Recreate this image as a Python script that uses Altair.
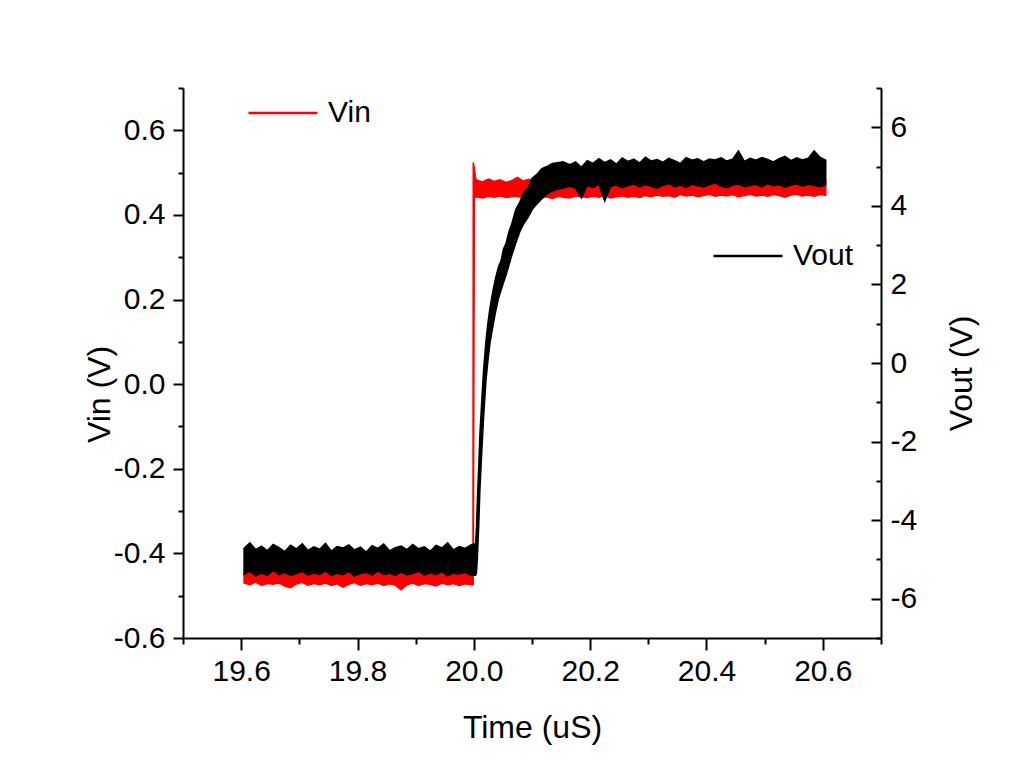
import altair as alt
import pandas as pd

RED = "#ff0000"
BLACK = "#000000"
FONT = "Liberation Sans"

# sample times (us)
PRE_T = [19.605, 19.615, 19.625, 19.635, 19.645, 19.655, 19.665, 19.675, 19.685, 19.695,
         19.705, 19.715, 19.725, 19.735, 19.745, 19.755, 19.765, 19.775, 19.785, 19.795,
         19.805, 19.815, 19.825, 19.835, 19.845, 19.855, 19.865, 19.875, 19.885, 19.895,
         19.905, 19.915, 19.925, 19.935, 19.945, 19.955, 19.965, 19.975, 19.985, 19.995]
POST_T = [20.005, 20.015, 20.025, 20.035, 20.045, 20.055, 20.065, 20.075, 20.085, 20.095,
          20.105, 20.115, 20.125, 20.135, 20.145, 20.155, 20.165, 20.175, 20.185, 20.195,
          20.205, 20.215, 20.225, 20.235, 20.245, 20.255, 20.265, 20.275, 20.285, 20.295,
          20.305, 20.315, 20.325, 20.335, 20.345, 20.355, 20.365, 20.375, 20.385, 20.395,
          20.405, 20.415, 20.425, 20.435, 20.445, 20.455, 20.465, 20.475, 20.485, 20.495,
          20.505, 20.515, 20.525, 20.535, 20.545, 20.555, 20.565, 20.575, 20.585, 20.595,
          20.605]

# Vin noise envelope (V)
VIN_PRE_LO = [-0.470, -0.474, -0.468, -0.476, -0.471, -0.473, -0.470, -0.477, -0.481, -0.472,
              -0.469, -0.475, -0.471, -0.474, -0.470, -0.476, -0.472, -0.480, -0.473, -0.469,
              -0.475, -0.471, -0.474, -0.470, -0.476, -0.472, -0.475, -0.486, -0.474, -0.470,
              -0.476, -0.471, -0.473, -0.477, -0.470, -0.474, -0.471, -0.476, -0.472, -0.474]
VIN_PRE_HI = [-0.446, -0.442, -0.448, -0.444, -0.447, -0.443, -0.449, -0.445, -0.441, -0.447,
              -0.444, -0.448, -0.442, -0.446, -0.443, -0.449, -0.445, -0.441, -0.447, -0.444,
              -0.448, -0.443, -0.446, -0.442, -0.447, -0.444, -0.449, -0.445, -0.442, -0.448,
              -0.444, -0.446, -0.441, -0.447, -0.443, -0.448, -0.445, -0.442, -0.446, -0.444]
STEP_T = [19.9985, 19.999, 20.001, 20.003]
STEP_LO = [-0.474, -0.474, 0.440, 0.442]
STEP_HI = [-0.445, 0.524, 0.510, 0.486]
VIN_POST_LO = [0.443, 0.440, 0.444, 0.442, 0.445, 0.441, 0.443, 0.444, 0.440, 0.442,
               0.445, 0.441, 0.443, 0.439, 0.444, 0.442, 0.440, 0.445, 0.443, 0.441,
               0.444, 0.442, 0.446, 0.440, 0.443, 0.445, 0.442, 0.444, 0.441, 0.446,
               0.443, 0.447, 0.444, 0.446, 0.442, 0.448, 0.445, 0.447, 0.443, 0.446,
               0.449, 0.444, 0.447, 0.445, 0.448, 0.443, 0.446, 0.449, 0.445, 0.447,
               0.444, 0.448, 0.446, 0.442, 0.447, 0.449, 0.445, 0.447, 0.444, 0.448, 0.446]
VIN_POST_HI = [0.482, 0.478, 0.485, 0.479, 0.483, 0.477, 0.481, 0.489, 0.480, 0.484,
               0.478, 0.482, 0.479, 0.483, 0.480, 0.484, 0.478, 0.482, 0.480, 0.483,
               0.479, 0.481, 0.484, 0.478, 0.482, 0.480, 0.483, 0.479, 0.481, 0.484,
               0.478, 0.482, 0.480, 0.483, 0.479, 0.481, 0.484, 0.478, 0.482, 0.480,
               0.483, 0.479, 0.481, 0.484, 0.478, 0.482, 0.480, 0.483, 0.479, 0.481,
               0.484, 0.478, 0.482, 0.480, 0.483, 0.479, 0.481, 0.484, 0.478, 0.482, 0.480]

# Vout noise envelope (V)
VOUT_PRE_LO = [-5.38, -5.30, -5.42, -5.35, -5.40, -5.28, -5.39, -5.33, -5.41, -5.36,
               -5.30, -5.40, -5.34, -5.38, -5.29, -5.41, -5.35, -5.39, -5.31, -5.42,
               -5.36, -5.33, -5.40, -5.29, -5.38, -5.35, -5.41, -5.32, -5.39, -5.36,
               -5.30, -5.40, -5.34, -5.38, -5.31, -5.42, -5.35, -5.37, -5.33, -5.40]
VOUT_PRE_HI = [-4.72, -4.58, -4.75, -4.66, -4.78, -4.62, -4.70, -4.80, -4.64, -4.73,
               -4.60, -4.77, -4.68, -4.74, -4.59, -4.79, -4.67, -4.71, -4.63, -4.76,
               -4.69, -4.81, -4.65, -4.72, -4.61, -4.78, -4.70, -4.66, -4.75, -4.62,
               -4.73, -4.68, -4.79, -4.64, -4.71, -4.58, -4.76, -4.67, -4.72, -4.63]
RISE_T = [20.0030, 20.0045, 20.0063, 20.0085, 20.0105, 20.0135, 20.0167, 20.0208, 20.0245, 20.0277,
          20.0330, 20.0380, 20.0425, 20.0468, 20.0510, 20.0556, 20.0605, 20.0654, 20.0720, 20.0792,
          20.0860, 20.0929, 20.1000, 20.1084, 20.1170, 20.1256, 20.1350, 20.1440, 20.1532]
RISE_LO = [-5.40, -5.35, -4.90, -4.10, -3.20, -2.30, -1.40, -0.45, 0.10, 0.50,
           0.95, 1.35, 1.65, 1.85, 2.05, 2.25, 2.50, 2.75, 3.05, 3.35,
           3.55, 3.70, 3.90, 4.05, 4.18, 4.30, 4.38, 4.42, 4.45]
RISE_HI = [-4.60, -4.20, -3.40, -2.60, -1.80, -1.00, -0.20, 0.55, 1.05, 1.40,
           1.85, 2.20, 2.45, 2.60, 2.90, 3.05, 3.35, 3.55, 3.90, 4.10,
           4.35, 4.45, 4.70, 4.80, 4.95, 5.00, 5.08, 5.10, 5.12]
VOUT_POST_LO = [4.50, 4.45, 4.20, 4.52, 4.47, 4.55, 4.12, 4.49, 4.53, 4.46,
                4.51, 4.56, 4.48, 4.54, 4.50, 4.45, 4.52, 4.57, 4.49, 4.53,
                4.47, 4.55, 4.51, 4.48, 4.54, 4.58, 4.50, 4.46, 4.53, 4.56,
                4.49, 4.52, 4.55, 4.48, 4.57, 4.51, 4.54, 4.47, 4.53, 4.56,
                4.50, 4.55, 4.52, 4.49, 4.54]
VOUT_POST_HI = [5.05, 5.12, 4.98, 5.15, 5.08, 5.20, 5.10, 5.17, 5.06, 5.22,
                5.13, 5.19, 5.09, 5.24, 5.14, 5.18, 5.11, 5.21, 5.15, 5.08,
                5.23, 5.16, 5.20, 5.12, 5.19, 5.17, 5.22, 5.14, 5.19, 5.40,
                5.13, 5.21, 5.16, 5.23, 5.18, 5.12, 5.20, 5.26, 5.15, 5.22,
                5.17, 5.21, 5.40, 5.24, 5.16]

# axis ticks
X_TICKS = [19.5, 19.6, 19.7, 19.8, 19.9, 20.0, 20.1, 20.2, 20.3, 20.4, 20.5, 20.6, 20.7]
VIN_TICKS = [-0.6, -0.5, -0.4, -0.3, -0.2, -0.1, 0.0, 0.1, 0.2, 0.3, 0.4, 0.5, 0.6, 0.7]
VOUT_MAJOR = [-6, -4, -2, 0, 2, 4, 6]
VOUT_MINOR = [-7, -5, -3, -1, 1, 3, 5, 7]

vin = pd.DataFrame({
    "t": PRE_T + STEP_T + POST_T,
    "lo": VIN_PRE_LO + STEP_LO + VIN_POST_LO,
    "hi": VIN_PRE_HI + STEP_HI + VIN_POST_HI,
})
vin["series"] = "Vin"
vout = pd.DataFrame({
    "t": PRE_T + RISE_T + POST_T[16:],
    "lo": VOUT_PRE_LO + RISE_LO + VOUT_POST_LO,
    "hi": VOUT_PRE_HI + RISE_HI + VOUT_POST_HI,
})
vout["series"] = "Vout"

xscale = alt.Scale(domain=[19.5, 20.7], nice=False, zero=False)
vin_scale = alt.Scale(domain=[-0.6, 0.7], nice=False, zero=False)
vout_scale = alt.Scale(domain=[-7, 7], nice=False, zero=False)

LABEL_SIZE = 30
TITLE_SIZE = 32

x_axis = alt.Axis(
    values=X_TICKS, grid=False,
    tickSize={"condition": {"test": "round(datum.value*10) % 2 == 1", "value": 6}, "value": 12},
    labelExpr="round(datum.value*10) % 2 == 1 ? '' : format(datum.value, '.1f')",
    labelFont=FONT, labelFontSize=LABEL_SIZE, labelColor=BLACK, labelPadding=6,
    labelOverlap=False, labelFlush=False,
    domainColor=BLACK, domainWidth=2, tickColor=BLACK, tickWidth=2,
    titleFont=FONT, titleFontSize=TITLE_SIZE, titleFontWeight="normal", titleColor=BLACK,
    titleY=99, titleBaseline="alphabetic",
)
vin_axis = alt.Axis(
    orient="left", values=VIN_TICKS, grid=False,
    tickSize={"condition": {"test": "abs(round(datum.value*10)) % 2 == 1", "value": 5}, "value": 10},
    labelExpr="abs(round(datum.value*10)) % 2 == 1 ? '' : replace(format(datum.value, '.1f'), '\u2212', '-')",
    labelFont=FONT, labelFontSize=LABEL_SIZE, labelColor=BLACK, labelPadding=8,
    labelOverlap=False, labelFlush=False,
    domainColor=BLACK, domainWidth=2, tickColor=BLACK, tickWidth=2,
    titleFont=FONT, titleFontSize=TITLE_SIZE, titleFontWeight="normal", titleColor=BLACK,
    titleAngle=270, titleX=-84, titleY=306, titleBaseline="middle",
)
vout_axis = alt.Axis(
    orient="right", values=VOUT_MAJOR, grid=False, offset=-10, tickSize=10, domain=False,
    labelExpr="replace(format(datum.value, 'd'), '\u2212', '-')",
    labelFont=FONT, labelFontSize=LABEL_SIZE, labelColor=BLACK, labelPadding=9,
    labelOverlap=False, labelFlush=False,
    tickColor=BLACK, tickWidth=2,
    titleFont=FONT, titleFontSize=TITLE_SIZE, titleFontWeight="normal", titleColor=BLACK,
    titleAngle=270, titleX=90, titleY=285, titleBaseline="middle",
)
vout_minor_axis = alt.Axis(
    orient="right", values=VOUT_MINOR, grid=False, offset=-5, tickSize=5, domain=False,
    labels=False, tickColor=BLACK, tickWidth=2, title=None,
)
right_line_axis = alt.Axis(
    orient="right", grid=False, ticks=False, labels=False, domain=True,
    domainColor=BLACK, domainWidth=2, title=None,
)

def legend(x, y):
    return alt.Legend(
        orient="none", legendX=x, legendY=y, title=None, padding=0,
        symbolType="stroke", symbolSize=4761, symbolStrokeWidth=2.5,
        labelFont=FONT, labelFontSize=LABEL_SIZE, labelColor=BLACK, labelOffset=9,
    )

vin_layer = alt.Chart(vin).mark_area(fill=RED, strokeWidth=1.5, opacity=1).encode(
    x=alt.X("t:Q", scale=xscale, axis=x_axis, title="Time (uS)"),
    y=alt.Y("lo:Q", scale=vin_scale, axis=vin_axis, title="Vin (V)"),
    y2="hi:Q",
    stroke=alt.Stroke("series:N", scale=alt.Scale(domain=["Vin"], range=[RED]),
                      legend=legend(64, -11)),
)
vout_layer = alt.Chart(vout).mark_area(fill=BLACK, strokeWidth=1.5, opacity=1).encode(
    x=alt.X("t:Q", scale=xscale, title="Time (uS)"),
    y=alt.Y("lo:Q", scale=vout_scale, axis=vout_axis, title="Vout (V)"),
    y2="hi:Q",
    stroke=alt.Stroke("series:N", scale=alt.Scale(domain=["Vout"], range=[BLACK]),
                      legend=legend(529, 132)),
)
minor_layer = alt.Chart(vout).mark_point(opacity=0).encode(
    x=alt.X("t:Q", scale=xscale, title="Time (uS)"),
    y=alt.Y("lo:Q", scale=vout_scale, axis=vout_minor_axis),
)
line_layer = alt.Chart(vout).mark_point(opacity=0).encode(
    x=alt.X("t:Q", scale=xscale, title="Time (uS)"),
    y=alt.Y("hi:Q", scale=vout_scale, axis=right_line_axis),
)

chart = alt.layer(vin_layer, vout_layer, minor_layer, line_layer).resolve_scale(
    y="independent", stroke="independent"
).properties(
    width=698, height=550,
    autosize=alt.AutoSizeParams(type="none"),
    padding={"left": 175, "top": 80, "right": 135, "bottom": 121},
    background="white",
).configure_view(stroke=None)

chart.save("out.html", embed_options={"renderer": "svg", "actions": False})
